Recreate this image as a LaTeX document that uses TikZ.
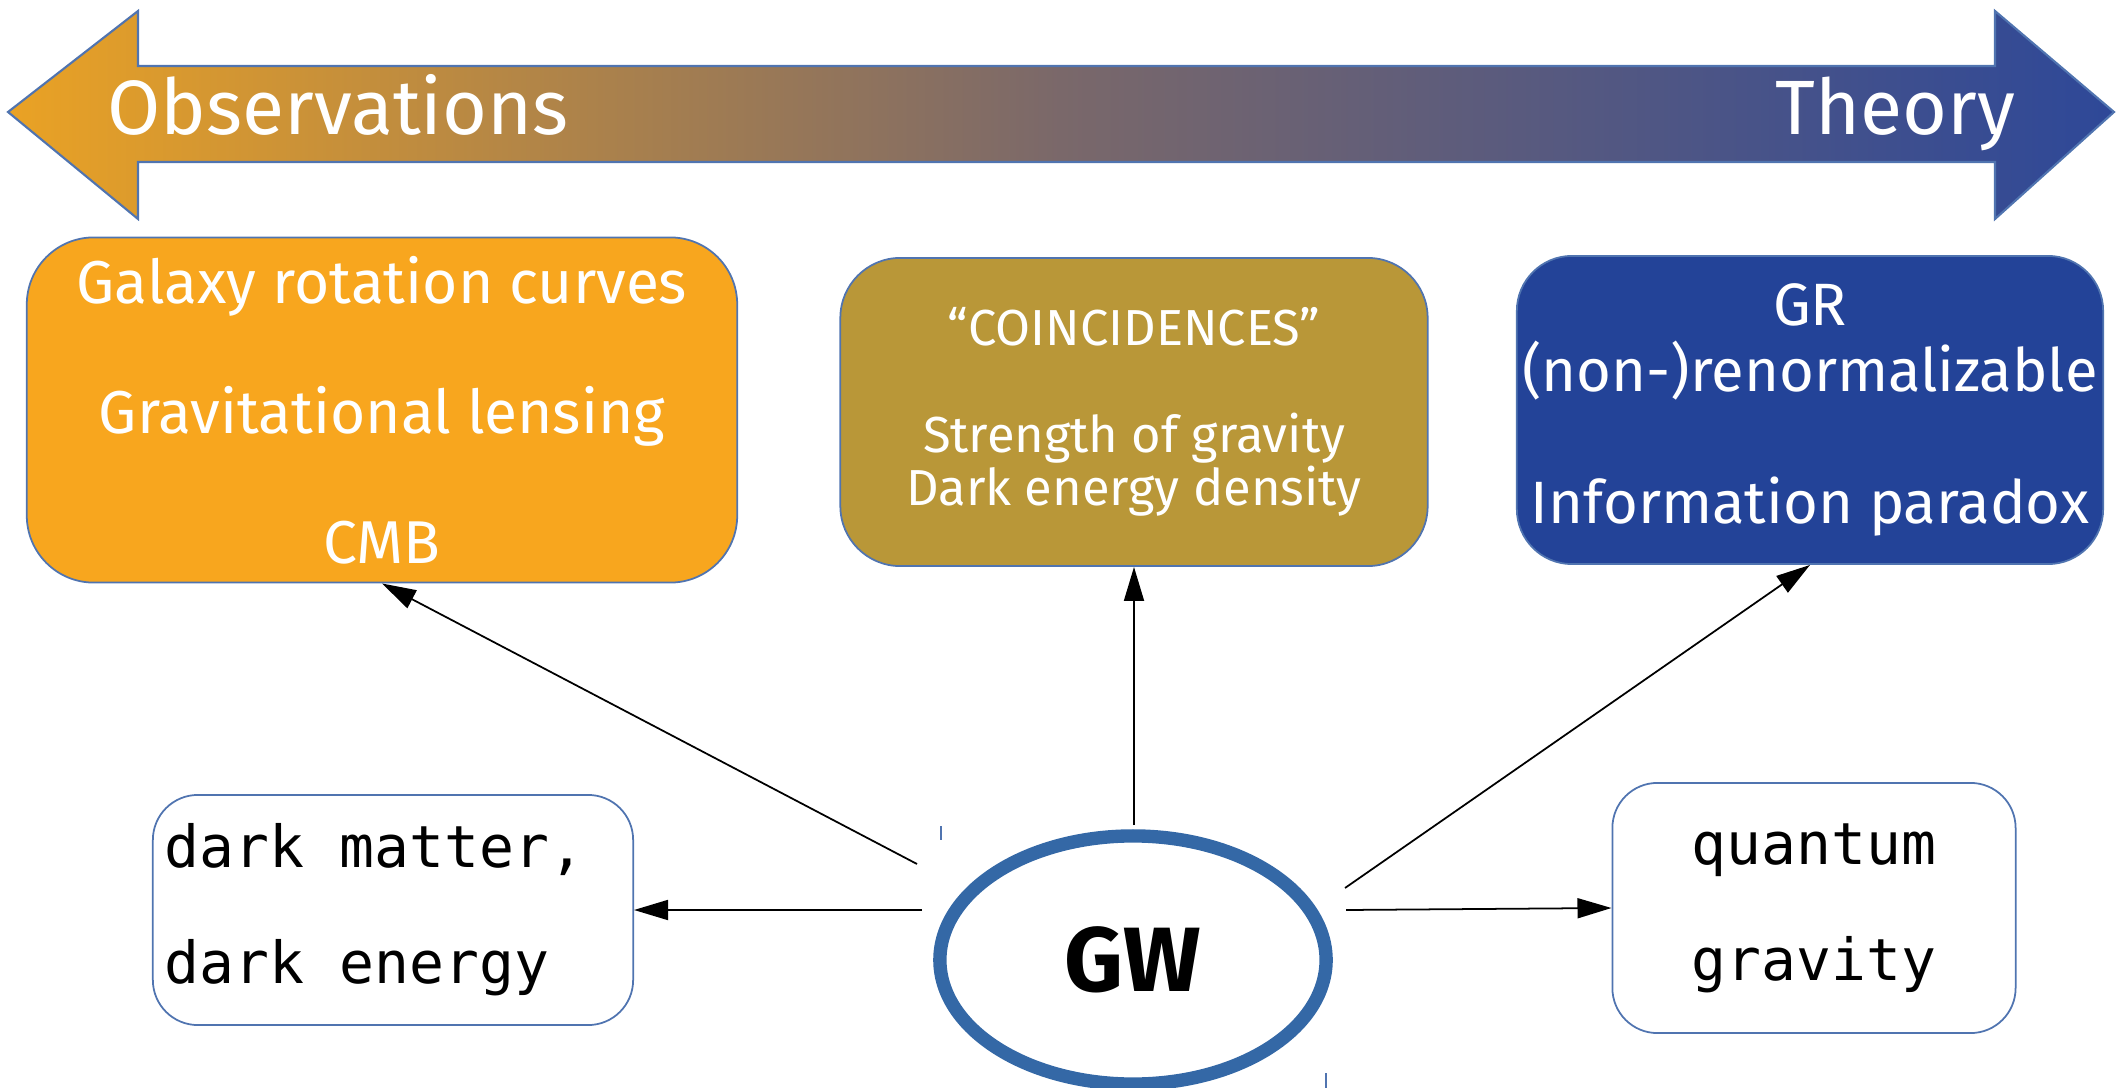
\documentclass[tikz,border=0pt]{standalone}
\usepackage{fontspec}
\setmainfont{Fira Sans}
\setmonofont{DejaVu Sans Mono}
\usetikzlibrary{shapes.geometric,arrows.meta}
\definecolor{obsorange}{RGB}{248,166,30}
\definecolor{coingold}{RGB}{185,151,56}
\definecolor{thyblue}{RGB}{35,67,152}
\definecolor{edgeblue}{RGB}{80,116,176}
\definecolor{gwblue}{RGB}{52,104,166}
\definecolor{shadeorange}{RGB}{234,162,36}
\definecolor{shadegrey}{RGB}{122,104,106}
\definecolor{shadeblue}{RGB}{46,72,152}
\newcommand{\msp}{\hphantom{x}}

\begin{document}
\begin{tikzpicture}
[x=0.01cm, y=-0.01cm,
every node/.style = {align=center, inner sep=0pt},
box/.style = {draw=edgeblue, line width=0.5pt, text=white},
mono/.style = {draw=edgeblue, line width=0.5pt, rounded corners=0.45cm,
	font=\ttfamily\fontsize{16.5}{33}\selectfont},
link/.style = {-{Triangle[length=3.4mm,width=2mm]}, line width=0.5pt},
]
\useasboundingbox (0,0) rectangle (2117,1088);
\draw[draw=edgeblue, line width=0.6pt, left color=shadeorange, right color=shadeblue,
	middle color=shadegrey]
	(8,112) -- (138,11) -- (138,66) -- (1995,66) -- (1995,11) -- (2114,112)
	-- (1995,219) -- (1995,162) -- (138,162) -- (138,219) -- cycle;
\node[text=white, font=\fontsize{21.9}{21.9}\selectfont, anchor=base west] (obslabel)
	at (107,135) {Observations};
\node[text=white, font=\fontsize{21.9}{21.9}\selectfont, anchor=base east] (thylabel)
	at (2016,135) {Theory};

\node[box, fill=obsorange, rounded corners=0.67cm, minimum width=7.1cm,
	minimum height=3.45cm, font=\fontsize{17.2}{37}\selectfont] (obs) at (382,410)
	{Galaxy rotation curves\\Gravitational lensing\\CMB};
\node[box, fill=coingold, rounded corners=0.6cm, minimum width=5.87cm,
	minimum height=3.08cm, font=\fontsize{14.4}{15.2}\selectfont] (coin) at (1134,412)
	{“COINCIDENCES”\\[15.2pt]Strength of gravity\\Dark energy density};
\node[box, fill=thyblue, rounded corners=0.55cm, minimum width=5.86cm,
	minimum height=3.08cm, font=\fontsize{17}{18.8}\selectfont] (thy) at (1810,410)
	{GR\\(non-)renormalizable\\[18.8pt]Information paradox};

\node[mono, minimum width=4.8cm, minimum height=2.3cm, text width=4.56cm,
	align=left] (dm) at (393,910) {dark\msp matter,\\dark\msp energy};
\node[mono, minimum width=4.03cm, minimum height=2.5cm] (qg) at (1814,908)
	{quantum\\gravity};
\node[draw=gwblue, ellipse, line width=3.8pt, minimum width=3.86cm,
	minimum height=2.48cm, font=\bfseries\fontsize{26}{26}\selectfont] (gw)
	at (1133,960) {GW};

\coordinate (sObs) at (917,864);
\coordinate (sCoin) at (1134,825);
\coordinate (sThy) at (1345,888);
\coordinate (sDm) at (922,910);
\coordinate (sQg) at (1346,910);
\draw[link] (sObs) -- (obs.south);
\draw[link] (sCoin) -- (coin.south);
\draw[link] (sThy) -- (thy.south);
\draw[link] (sDm) -- (dm.east);
\draw[link] (sQg) -- (qg.west);

\draw[edgeblue, line width=0.6pt] (941,826) -- (941,840);
\draw[edgeblue, line width=0.6pt] (1326,1073) -- (1326,1088);
\end{tikzpicture}
\end{document}
